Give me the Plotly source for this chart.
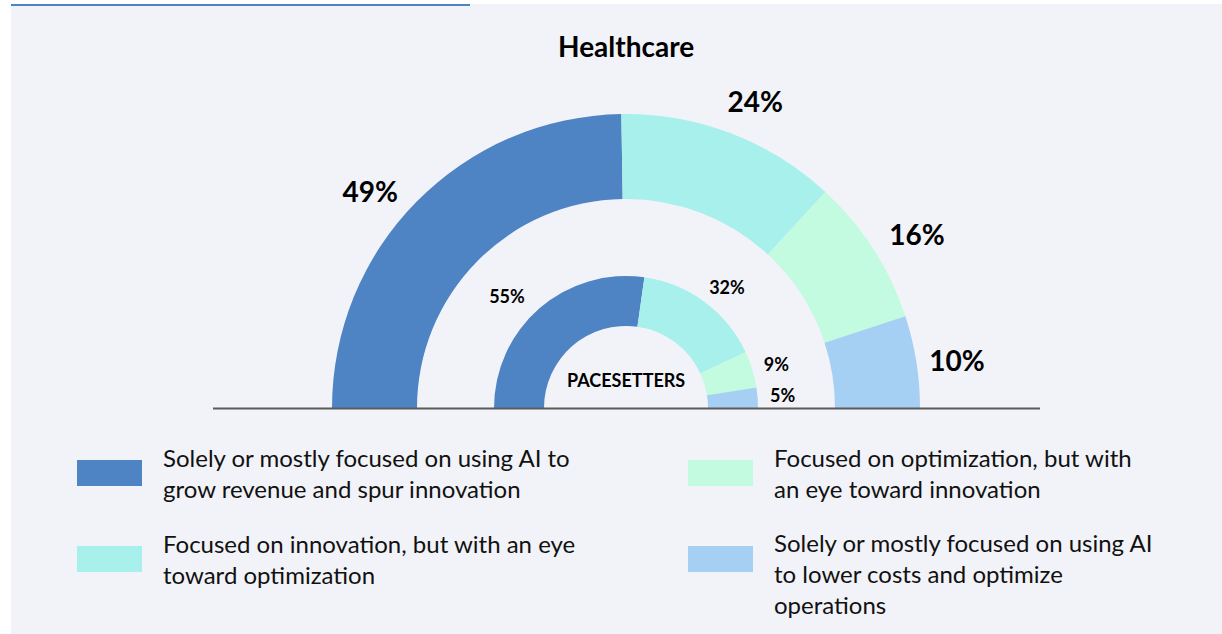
import numpy as np
import plotly.graph_objects as go

# Dados
CATEGORIAS = [
    "Solely or mostly focused on using AI to<br>grow revenue and spur innovation",
    "Focused on innovation, but with an eye<br>toward optimization",
    "Focused on optimization, but with<br>an eye toward innovation",
    "Solely or mostly focused on using AI<br>to lower costs and optimize<br>operations",
]
TODOS = [49, 24, 16, 10]
PACESETTERS = [55, 32, 9, 5]

CORES = ["#4F84C4", "#A8F0EC", "#C2FBE0", "#A5CFF3"]
FONTE = "Lato"
FUNDO = "#F2F3F8"

# Geometria (px)
CX, CY = 626, 408
R_MAX = 345
ANEL_EXT = (209, 294)
ANEL_INT = (82, 132)
W, H = 1222, 634

# Ajuste fino da posicao dos rotulos (graus e raio em px)
ROT_EXT = dict(dtheta=[-4.7, 2.2, 2.4, 1.5], r=[333, 329, 337, 334], tam=28)
ROT_INT = dict(dtheta=[-6.3, 3.8, 1.4, 0.5], r=[162, 156, 156, 157], tam=18)


def angulos(valores):
    v = np.array(valores, dtype=float)
    span = v / v.sum() * 180
    inicio = np.concatenate([[0], np.cumsum(span)[:-1]])
    return inicio + span / 2, span


fig = go.Figure()

for valores, (r0, r1), rot in [
    (TODOS, ANEL_EXT, ROT_EXT),
    (PACESETTERS, ANEL_INT, ROT_INT),
]:
    meio, span = angulos(valores)
    fig.add_trace(go.Barpolar(
        theta=meio, width=span, r=[r1 - r0] * len(valores), base=[r0] * len(valores),
        marker=dict(color=CORES, line=dict(width=0)),
        showlegend=False, hoverinfo="skip",
    ))
    fig.add_trace(go.Scatterpolar(
        theta=meio + np.array(rot["dtheta"]), r=rot["r"], mode="text",
        text=[f"<b>{v}%</b>" for v in valores],
        textfont=dict(family=FONTE, size=rot["tam"], color="#000000"),
        showlegend=False, hoverinfo="skip",
    ))

fig.update_layout(
    width=W, height=H,
    margin=dict(l=0, r=0, t=0, b=0),
    paper_bgcolor="#FFFFFF",
    plot_bgcolor=FUNDO,
    showlegend=False,
    polar=dict(
        domain=dict(x=[(CX - R_MAX) / W, (CX + R_MAX) / W],
                    y=[(H - CY) / H, (H - CY + R_MAX) / H]),
        sector=[0, 180],
        bgcolor="rgba(0,0,0,0)",
        angularaxis=dict(rotation=180, direction="clockwise", visible=False),
        radialaxis=dict(range=[0, R_MAX], visible=False),
    ),
)

# Painel de fundo e linhas
fig.add_shape(type="rect", xref="paper", yref="paper", layer="below",
              x0=11 / W, x1=1, y0=0, y1=1 - 4 / H,
              fillcolor=FUNDO, line_width=0)
fig.add_shape(type="line", xref="paper", yref="paper",
              x0=11 / W, x1=470 / W, y0=1 - 5 / H, y1=1 - 5 / H,
              line=dict(color="#4F84C4", width=2))
fig.add_shape(type="line", xref="paper", yref="paper",
              x0=213 / W, x1=1040 / W, y0=1 - 408.5 / H, y1=1 - 408.5 / H,
              line=dict(color="#5A5A5A", width=2))

# Titulo e centro
fig.add_annotation(x=CX / W, y=1 - 46 / H, xref="paper", yref="paper",
                   text="<b>Healthcare</b>", showarrow=False, yanchor="middle",
                   font=dict(family=FONTE, size=28, color="#000000"))
fig.add_annotation(x=CX / W, y=1 - 380 / H, xref="paper", yref="paper",
                   text="<b>PACESETTERS</b>", showarrow=False, yanchor="middle",
                   font=dict(family=FONTE, size=18, color="#000000"))

# Legenda manual
posicoes = [(77, 473), (77, 559), (688, 473), (688, 573)]
centros_swatch = [473, 559, 473, 559]
for cat, cor, (x, yc), ys in zip(CATEGORIAS, CORES, posicoes, centros_swatch):
    fig.add_shape(type="rect", xref="paper", yref="paper",
                  x0=x / W, x1=(x + 65) / W,
                  y0=1 - (ys + 13) / H, y1=1 - (ys - 13) / H,
                  fillcolor=cor, line_width=0)
    fig.add_annotation(x=(x + 84) / W, y=1 - yc / H, xref="paper", yref="paper",
                       text=cat, showarrow=False, align="left",
                       xanchor="left", yanchor="middle",
                       font=dict(family=FONTE, size=24, color="#111111"))

fig.write_html("out.html", config={"displayModeBar": False},
               post_script="document.body.style.margin='0';")
